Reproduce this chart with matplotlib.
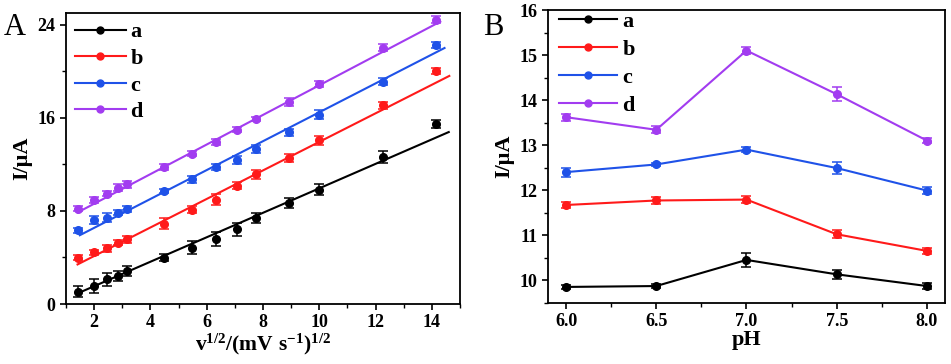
import numpy as np
import matplotlib
matplotlib.use("Agg")
import matplotlib.pyplot as plt
from matplotlib.ticker import MultipleLocator

plt.rcParams['font.family'] = ['Liberation Serif', 'DejaVu Serif']
plt.rcParams['font.weight'] = 'bold'
plt.rcParams['mathtext.fontset'] = 'custom'
plt.rcParams['mathtext.rm'] = 'Liberation Serif:bold'
plt.rcParams['mathtext.bf'] = 'Liberation Serif:bold'
plt.rcParams['mathtext.it'] = 'Liberation Serif:bold'

labels = ['a', 'b', 'c', 'd']
colors = ['#000000', '#ff1a1a', '#1f52e8', '#a23cf0']

# Panel A: current vs square root of scan rate
sqrt_v = [1.41, 2.0, 2.45, 2.83, 3.16, 4.47, 5.48, 6.32, 7.07, 7.75, 8.94, 10.0, 12.25, 14.14]
A_a = [1.06, 1.57, 2.11, 2.40, 2.83, 3.97, 4.83, 5.57, 6.43, 7.40, 8.69, 9.83, 12.63, 15.43]
A_b = [3.97, 4.43, 4.77, 5.26, 5.57, 6.91, 8.11, 8.97, 10.14, 11.14, 12.51, 14.06, 17.06, 20.00]
A_c = [6.34, 7.20, 7.43, 7.86, 8.14, 9.71, 10.71, 11.77, 12.40, 13.29, 14.77, 16.26, 19.11, 22.26]
A_d = [8.20, 8.97, 9.49, 9.97, 10.29, 11.77, 12.91, 13.91, 14.97, 15.89, 17.34, 18.91, 22.00, 24.40]
A_err_a = [0.5, 0.6, 0.55, 0.45, 0.45, 0.3, 0.55, 0.6, 0.55, 0.45, 0.4, 0.5, 0.55, 0.35]
A_err_b = [0.2, 0.25, 0.3, 0.2, 0.3, 0.5, 0.3, 0.5, 0.3, 0.4, 0.35, 0.4, 0.3, 0.25]
A_err_c = [0.2, 0.35, 0.35, 0.25, 0.25, 0.2, 0.3, 0.25, 0.35, 0.35, 0.3, 0.4, 0.3, 0.25]
A_err_d = [0.2, 0.25, 0.25, 0.3, 0.3, 0.25, 0.2, 0.25, 0.2, 0.2, 0.35, 0.25, 0.3, 0.3]
fit_slope = [1.051, 1.226, 1.241, 1.272]
fit_intercept = [-0.572, 1.67, 4.06, 6.07]
fit_start = [1.41, 1.41, 1.49, 1.41]
fit_end = [14.6, 14.62, 14.45, 14.3]

# Panel B: current vs pH
pH = [6.0, 6.5, 7.0, 7.5, 8.0]
B_a = [9.85, 9.87, 10.45, 10.13, 9.87]
B_b = [11.67, 11.77, 11.79, 11.02, 10.65]
B_c = [12.40, 12.57, 12.90, 12.49, 11.99]
B_d = [13.62, 13.34, 15.10, 14.13, 13.10]
B_err_a = [0.05, 0.04, 0.15, 0.1, 0.07]
B_err_b = [0.07, 0.08, 0.07, 0.09, 0.07]
B_err_c = [0.1, 0.04, 0.05, 0.13, 0.07]
B_err_d = [0.08, 0.08, 0.08, 0.15, 0.05]

fig = plt.figure(figsize=(9.51, 3.64), dpi=100)
axA = fig.add_axes([0.0694, 0.1648, 0.4143, 0.7995])
axB = fig.add_axes([0.5762, 0.1684, 0.4175, 0.8041])

def style(ax):
    for s in ax.spines.values():
        s.set_linewidth(1.3)
    ax.tick_params(which='major', direction='out', length=4.5, width=1.2,
                   labelsize=13, top=False, right=False, pad=3)
    ax.tick_params(which='minor', direction='out', length=2.8, width=1.0,
                   top=False, right=False)
    for lab in ax.get_xticklabels() + ax.get_yticklabels():
        lab.set_fontweight('bold')

# Panel A
A_series = [A_a, A_b, A_c, A_d]
A_errs = [A_err_a, A_err_b, A_err_c, A_err_d]
for i in range(4):
    axA.errorbar(sqrt_v, A_series[i], yerr=A_errs[i], fmt='o', color=colors[i],
                 ms=5.5, capsize=3.3, elinewidth=1.1, capthick=1.1, zorder=3)
    xs = np.array([fit_start[i], fit_end[i]])
    axA.plot(xs, fit_slope[i] * xs + fit_intercept[i], '-', color=colors[i], lw=1.5)
proxies = [plt.Line2D([], [], color=c, lw=1.5, marker='o', ms=5) for c in colors]
axA.legend(proxies, labels, loc='upper left', frameon=False, numpoints=1,
           prop={'family': 'Liberation Serif', 'weight': 'bold', 'size': 16},
           handlelength=2.3, handletextpad=0.2, labelspacing=0.27,
           borderaxespad=0.0, bbox_to_anchor=(0.0, 1.0))
axA.set_xlim(1, 15)
axA.set_ylim(0, 25)
axA.set_xticks([2, 4, 6, 8, 10, 12, 14])
axA.set_yticks([0, 8, 16, 24])
axA.xaxis.set_minor_locator(MultipleLocator(1))
axA.yaxis.set_minor_locator(MultipleLocator(4))
style(axA)
axA.set_xlabel(r'$\mathbf{v^{1/2}/(mV\ s^{-1})^{1/2}}$', fontsize=15.5, labelpad=0)
axA.set_ylabel('I/μA', fontsize=16, fontweight='bold', labelpad=4)
fig.text(0.004, 0.905, 'A', fontsize=22, fontweight='normal', family='Liberation Serif')

# Panel B
B_series = [B_a, B_b, B_c, B_d]
B_errs = [B_err_a, B_err_b, B_err_c, B_err_d]
for i in range(4):
    axB.errorbar(pH, B_series[i], yerr=B_errs[i], fmt='-o', color=colors[i],
                 ms=5.5, lw=1.5, capsize=3.3, elinewidth=1.1, capthick=1.1, label=labels[i])
proxiesB = [plt.Line2D([], [], color=c, lw=1.5, marker='o', ms=5) for c in colors]
axB.legend(proxiesB, labels, loc='upper left', frameon=False, numpoints=1,
           prop={'family': 'Liberation Serif', 'weight': 'bold', 'size': 16},
           handlelength=2.6, handletextpad=0.25, labelspacing=0.33,
           borderaxespad=0.1, bbox_to_anchor=(0.0, 1.033))
axB.set_xlim(5.9, 8.1)
axB.set_ylim(9.5, 16)
axB.set_xticks(pH)
axB.set_xticklabels([f'{v:.1f}' for v in pH])
axB.set_yticks(range(10, 17))
axB.xaxis.set_minor_locator(MultipleLocator(0.25))
axB.yaxis.set_minor_locator(MultipleLocator(0.5))
style(axB)
axB.set_xlabel('pH', fontsize=16, fontweight='bold', labelpad=0)
axB.set_ylabel('I/μA', fontsize=16, fontweight='bold', labelpad=4)
fig.text(0.508, 0.905, 'B', fontsize=22, fontweight='normal', family='Liberation Serif')

fig.savefig('out.png', dpi=100)
